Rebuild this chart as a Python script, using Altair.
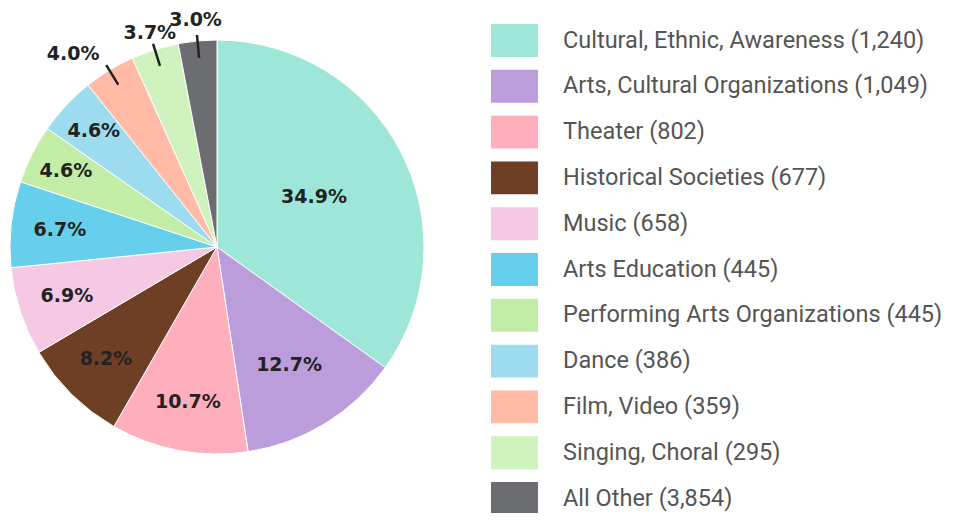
import altair as alt
import pandas as pd

categories = [
    "Cultural, Ethnic, Awareness", "Arts, Cultural Organizations", "Theater",
    "Historical Societies", "Music", "Arts Education",
    "Performing Arts Organizations", "Dance", "Film, Video",
    "Singing, Choral", "All Other",
]
counts = [1240, 1049, 802, 677, 658, 445, 445, 386, 359, 295, 3854]
pcts = [34.9, 12.7, 10.7, 8.2, 6.9, 6.7, 4.6, 4.6, 4.0, 3.7, 3.0]
colors = [
    "#9de6d8", "#bb9ddc", "#ffaebb", "#6f3f25", "#f5c8e4", "#66cfec",
    "#c1eda6", "#9ddcef", "#ffbba6", "#cff2bf", "#6c6d71",
]

labels = [f"{c} ({n:,})" for c, n in zip(categories, counts)]
df = pd.DataFrame({
    "idx": list(range(len(categories))),
    "label": labels,
    "pct": pcts,
})

R = 207
CX, CY = 209, 239
theta_scale = alt.Scale(domain=[0, 100])

base = alt.Chart(df).transform_window(
    cum="sum(pct)", sort=[alt.SortField("idx")], frame=[None, 0]
).transform_calculate(
    start="datum.cum - datum.pct",
    mid="datum.cum - datum.pct / 2",
    txt="format(datum.pct, '.1f') + '%'",
    lr="datum.pct > 20 ? 109 : datum.pct > 12 ? 138 : datum.pct > 6.5 ? 158 : datum.pct > 4.5 ? 169 : datum.pct > 3.9 ? 226 : datum.pct > 3.5 ? 224 : 228",
)

pie = base.mark_arc(outerRadius=R, stroke="white", strokeWidth=1).encode(
    x=alt.value(CX), y=alt.value(CY),
    theta=alt.Theta("start:Q", scale=theta_scale, stack=False),
    theta2="cum:Q",
    color=alt.Color(
        "label:N",
        scale=alt.Scale(domain=labels, range=colors),
        sort=labels,
        legend=alt.Legend(
            title=None, orient="none", legendX=483, legendY=9,
            symbolType="M-1,-0.7H1V0.7H-1Z", symbolSize=2209,
            symbolStrokeWidth=0, symbolOpacity=1,
            labelFontSize=23.5, labelFont="Roboto", labelColor="#555555",
            labelOffset=25, rowPadding=5.8, labelLimit=600,
        ),
    ),
)

leaders = base.transform_filter("datum.pct < 4.5").mark_arc(
    filled=False, stroke="#222222", strokeWidth=2.5
).encode(
    x=alt.value(CX), y=alt.value(CY),
    theta=alt.Theta("mid:Q", scale=theta_scale, stack=False),
    theta2="mid:Q",
    radius=alt.value(213), radius2=alt.value(190),
)

text_style = dict(font="DejaVu Sans", fontWeight="bold", fontSize=19,
                  color="#222222", baseline="middle")
text_enc = dict(
    x=alt.value(CX), y=alt.value(CY),
    theta=alt.Theta("mid:Q", scale=theta_scale, stack=False),
    radius=alt.Radius("lr:Q", scale=None),
    text="txt:N",
)

text = base.transform_filter("datum.pct < 3.9 || datum.pct > 4.5").mark_text(
    align="center", **text_style
).encode(**text_enc)

text_left = base.transform_filter("datum.pct >= 3.9 && datum.pct <= 4.5").mark_text(
    align="right", **text_style
).encode(**text_enc)

chart = alt.layer(pie, leaders, text, text_left).properties(
    width=940, height=505, padding=0, autosize=alt.AutoSizeParams(type="none"),
).configure_view(stroke=None)

chart.save("out.html", embed_options={"renderer": "svg", "actions": False})
